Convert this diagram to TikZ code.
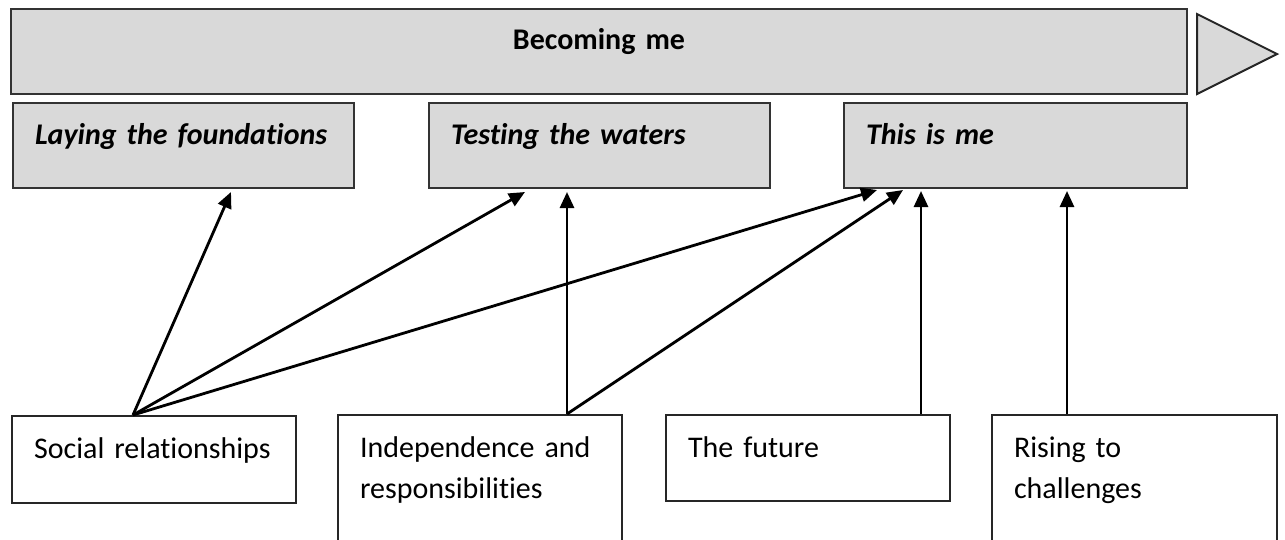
\documentclass[tikz,border=0pt]{standalone}
\usepackage{fontspec}
\setmainfont{Carlito}[Ligatures=NoCommon]
\usetikzlibrary{arrows.meta}
\definecolor{stagegray}{HTML}{D9D9D9}

\begin{document}
\begin{tikzpicture}[x=1pt,y=-1pt,>={Triangle[length=16pt,width=14pt]},
    stage/.style={draw=black!80,line width=2pt,fill=stagegray,anchor=north west,
      inner xsep=22pt,inner ysep=0pt,align=left,
      font=\fontsize{30}{41}\selectfont\bfseries\itshape,text height=41pt,text depth=44pt},
    theme/.style={draw=black!85,line width=2pt,anchor=north west,
      inner xsep=22pt,inner ysep=0pt,align=left,
      font=\fontsize{30}{41}\selectfont,text height=42pt},
    link/.style={->,line width=2.8pt}]
    \useasboundingbox (0,0) rectangle (1285,539);
    % Stages
    \node[stage,align=center,font=\fontsize{30}{41}\selectfont\bfseries,
      text width=1132pt,text height=40pt,text depth=45pt] (becoming) at (10,8) {Becoming me};
    \draw[draw=black!85,line width=2pt,fill=stagegray] (1197,14) -- (1277,54) -- (1197,94) -- cycle;
    \node[stage,text width=297pt] (laying) at (12,102) {Laying the foundations};
    \node[stage,text width=297pt] (testing) at (428,102) {Testing the waters};
    \node[stage,text width=299pt] (thisme) at (843,102) {This is me};
    % Themes
    \node[theme,text width=240pt,text depth=45pt] (social) at (11,415) {Social relationships};
    \node[theme,text width=240pt,text depth=88pt] (indep) at (337,414) {Independence and\\responsibilities};
    \node[theme,text width=240pt,text depth=44pt] (future) at (665,414) {The future};
    \node[theme,text width=241pt,text depth=88pt] (rising) at (991,414) {Rising to\\challenges};
    % Links
    \draw[link] ([xshift=122pt]social.north west) -- ([xshift=219pt,yshift=-3pt]laying.south west);
    \draw[link] ([xshift=122pt]social.north west) -- ([xshift=97pt,yshift=-3pt]testing.south west);
    \draw[link] ([xshift=122pt]social.north west) -- ([xshift=34pt,yshift=-1pt]thisme.south west);
    \draw[link] ([xshift=230pt]indep.north west) -- ([xshift=139pt,yshift=-3pt]testing.south west);
    \draw[link] ([xshift=230pt]indep.north west) -- ([xshift=60pt,yshift=-1pt]thisme.south west);
    \draw[link] ([xshift=256pt]future.north west) -- ([xshift=78pt,yshift=-2pt]thisme.south west);
    \draw[link] ([xshift=76pt]rising.north west) -- ([xshift=224pt,yshift=-2pt]thisme.south west);
\end{tikzpicture}
\end{document}
